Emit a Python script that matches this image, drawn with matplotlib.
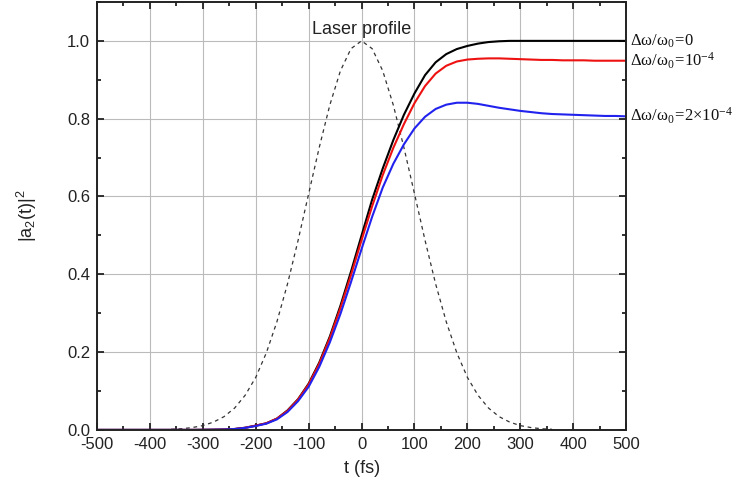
import matplotlib
matplotlib.use("Agg")
import matplotlib.pyplot as plt
from matplotlib.ticker import MultipleLocator

plt.rcParams['font.family'] = ['Liberation Sans', 'DejaVu Sans']
plt.rcParams['axes.unicode_minus'] = False

# tempo (fs), passo de 20 fs
t = list(range(-500, 501, 20))

# delta omega / omega0 = 0
y_black = [0, 0, 0, 0, 0, 0, 0, 0, 0, 0,
           0.0002, 0.0005, 0.001, 0.0023, 0.0055, 0.011, 0.017, 0.029, 0.050, 0.079,
           0.119, 0.173, 0.240, 0.319, 0.407, 0.500, 0.592, 0.672, 0.745, 0.810,
           0.865, 0.912, 0.945, 0.966, 0.979, 0.987, 0.993, 0.997, 0.999, 1.0,
           1.0, 1.0, 1.0, 1.0, 1.0, 1.0, 1.0, 1.0, 1.0, 1.0, 1.0]

# delta omega / omega0 = 1e-4
y_red = [0, 0, 0, 0, 0, 0, 0, 0, 0, 0,
         0.0002, 0.0005, 0.001, 0.0023, 0.0055, 0.011, 0.017, 0.029, 0.049, 0.078,
         0.117, 0.170, 0.236, 0.313, 0.398, 0.488, 0.575, 0.655, 0.725, 0.786,
         0.840, 0.884, 0.916, 0.936, 0.947, 0.952, 0.954, 0.955, 0.955, 0.954,
         0.953, 0.952, 0.951, 0.951, 0.950, 0.950, 0.950, 0.949, 0.949, 0.949, 0.949]

# delta omega / omega0 = 2e-4
y_blue = [0, 0, 0, 0, 0, 0, 0, 0, 0, 0,
          0.0002, 0.0005, 0.001, 0.0022, 0.0052, 0.010, 0.016, 0.027, 0.046, 0.074,
          0.111, 0.162, 0.225, 0.298, 0.380, 0.465, 0.548, 0.623, 0.684, 0.734,
          0.775, 0.805, 0.825, 0.836, 0.841, 0.841, 0.838, 0.833, 0.828, 0.824,
          0.820, 0.817, 0.814, 0.812, 0.811, 0.810, 0.809, 0.808, 0.807, 0.807, 0.806]

# perfil do laser (tracejado)
t_laser = list(range(-360, 361, 20))
y_laser = [0.0015, 0.003, 0.006, 0.011, 0.020, 0.034, 0.056, 0.089, 0.135, 0.198,
           0.278, 0.375, 0.487, 0.607, 0.726, 0.835, 0.923, 0.980, 1.0, 0.980,
           0.923, 0.835, 0.726, 0.607, 0.487, 0.375, 0.278, 0.198, 0.135, 0.089,
           0.056, 0.034, 0.020, 0.011, 0.006, 0.003, 0.0015]

labels = [r'$\mathregular{\Delta\omega/\omega_0\!=\!0}$',
          r'$\mathregular{\Delta\omega/\omega_0\!=\!10^{-4}}$',
          r'$\mathregular{\Delta\omega/\omega_0\!=\!2{\times}10^{-4}}$']
label_y = [1.0, 0.948, 0.806]

fig = plt.figure(figsize=(7.37, 4.93), dpi=100)
ax = fig.add_axes([0.1316, 0.128, 0.718, 0.868])

ax.plot(t_laser, y_laser, color='#333333', lw=0.9, ls=(0, (3, 3)))
ax.plot(t, y_black, color='black', lw=1.5)
ax.plot(t, y_red, color='#ee1111', lw=1.5)
ax.plot(t, y_blue, color='#2222ee', lw=1.5)

ax.set_xlim(-500, 500)
ax.set_ylim(0, 1.1)
ax.xaxis.set_major_locator(MultipleLocator(100))
ax.xaxis.set_minor_locator(MultipleLocator(50))
ax.yaxis.set_minor_locator(MultipleLocator(0.1))
ax.set_yticks([0, 0.2, 0.4, 0.6, 0.8, 1.0])
ax.set_yticklabels(['0.0', '0.2', '0.4', '0.6', '0.8', '1.0'])
ax.grid(True, which='major', color='#bbbbbb', lw=0.8)
ax.set_axisbelow(True)
ax.tick_params(which='both', direction='in', top=True, right=True,
               labelsize=12, width=1.3, colors='#222222')
ax.tick_params(which='major', length=5, pad=5)
ax.tick_params(which='minor', length=3)
for s in ax.spines.values():
    s.set_linewidth(1.4)
    s.set_color('#222222')

ax.set_xlabel('t (fs)', fontsize=13, color='#222222', labelpad=6)
ax.set_ylabel(r'$\mathregular{|a_2(t)|^2}$', fontsize=13, color='#222222', labelpad=20)

ax.text(0, 1.03, 'Laser profile', ha='center', va='center', fontsize=13, color='#222222')

for lab, yy in zip(labels, label_y):
    ax.text(1.008, yy, lab, transform=ax.get_yaxis_transform(), ha='left', va='center',
            fontsize=12, family=['Liberation Serif', 'DejaVu Serif'], color='#111111')

fig.savefig('out.png', dpi=100)
